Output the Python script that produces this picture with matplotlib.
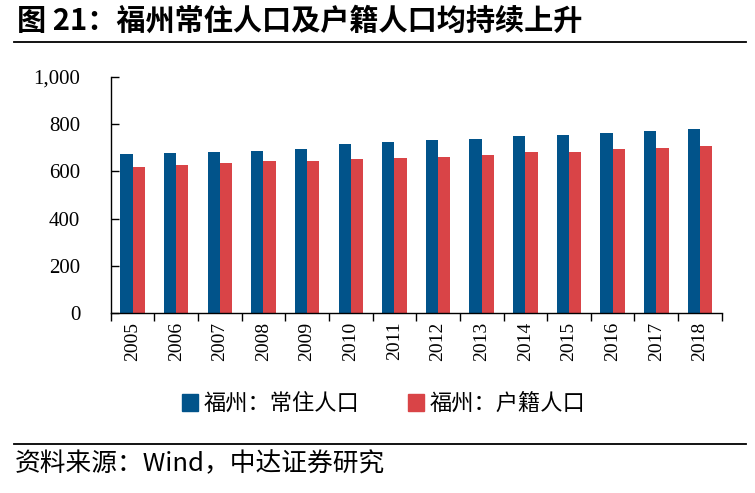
import matplotlib
matplotlib.use("Agg")
import matplotlib.pyplot as plt
import numpy as np
from matplotlib.patches import Patch
from matplotlib.lines import Line2D

years = ["2005", "2006", "2007", "2008", "2009", "2010", "2011", "2012",
         "2013", "2014", "2015", "2016", "2017", "2018"]
resident = [672, 677, 682, 686, 694, 716, 724, 732, 736, 749, 754, 762, 770, 779]
registered = [618, 627, 634, 642, 644, 652, 655, 661, 669, 682, 682, 694, 698, 707]
yticks = [0, 200, 400, 600, 800, 1000]
ytick_labels = ["0", "200", "400", "600", "800", "1,000"]
series_names = ["福州：常住人口", "福州：户籍人口"]
title = "图 21：福州常住人口及户籍人口均持续上升"
source = "资料来源：Wind，中达证券研究"

blue = "#01538A"
red = "#D94447"
cjk = ["Noto Sans CJK SC", "DejaVu Sans"]
serif = ["Liberation Serif", "Noto Sans CJK SC"]

fig = plt.figure(figsize=(7.55, 4.93), dpi=100)
ax = fig.add_axes([0.1466, 0.3645, 0.8094, 0.4799])

x = np.arange(len(years))
w = 0.28
ax.bar(x - w / 2, resident, width=w, color=blue, label=series_names[0])
ax.bar(x + w / 2, registered, width=w, color=red, label=series_names[1])

ax.set_xlim(-0.5, len(years) - 0.5)
ax.set_ylim(0, 1000)
ax.set_yticks(yticks)
ax.set_yticklabels(ytick_labels, fontfamily=serif, fontsize=15)
ax.tick_params(axis="y", direction="in", length=6, width=1, pad=22)

ax.set_xticks(x)
ax.set_xticklabels(years, rotation=90, fontfamily=serif, fontsize=14)
ax.tick_params(axis="x", which="major", length=0, pad=6)
ax.set_xticks(np.arange(len(years) + 1) - 0.5, minor=True)
ax.tick_params(axis="x", which="minor", direction="out", length=6, width=1)

for s in ["top", "right"]:
    ax.spines[s].set_visible(False)
for s in ["left", "bottom"]:
    ax.spines[s].set_linewidth(1)
    ax.spines[s].set_color("black")

# title
fig.text(0.022, 0.957, title, fontfamily=cjk, fontsize=21, fontweight="bold",
         va="center", ha="left")
fig.add_artist(Line2D([0.018, 0.988], [0.914, 0.914], color="black", lw=1.3,
                      transform=fig.transFigure))
# bottom line + source
fig.add_artist(Line2D([0.018, 0.988], [0.100, 0.100], color="black", lw=1.3,
                      transform=fig.transFigure))
fig.text(0.02, 0.058, source, fontfamily=cjk, fontsize=18.5, va="center", ha="left")

handles = [Patch(color=blue), Patch(color=red)]
fig.legend(handles, series_names, loc="center", bbox_to_anchor=(0.508, 0.182),
           ncol=2, frameon=False, prop={"family": cjk, "size": 16},
           handlelength=0.7, handleheight=0.8, handletextpad=0.25, columnspacing=2.2)

fig.savefig("out.png", dpi=100)
